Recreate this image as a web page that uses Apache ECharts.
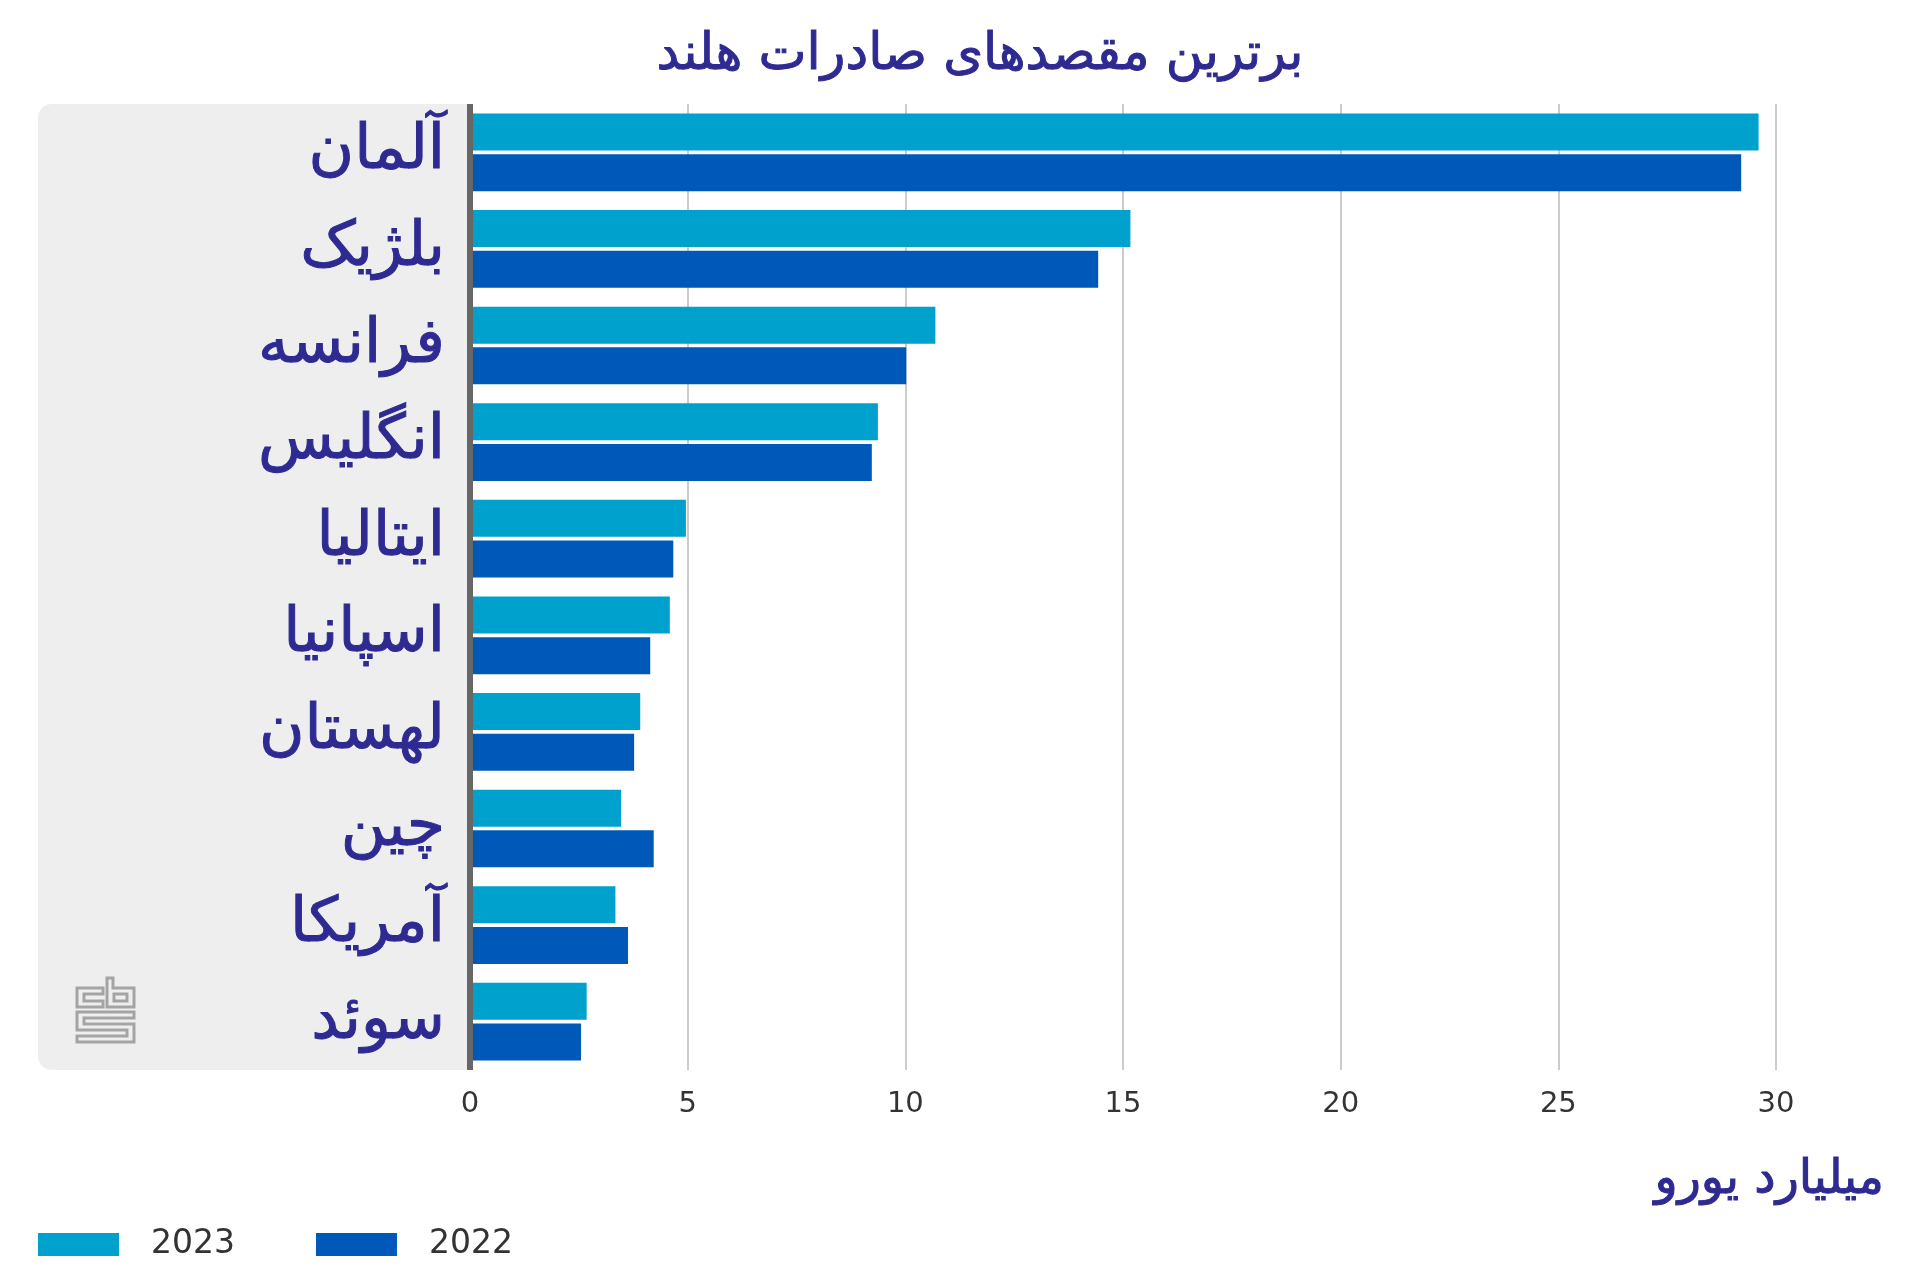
<!DOCTYPE html>
<html>
<head>
<meta charset="utf-8">
<title>برترین مقصدهای صادرات هلند</title>
<script src="https://cdn.jsdelivr.net/npm/echarts@6/dist/echarts.min.js"></script>
<style>
    html, body {margin: 0; padding: 0; background: #fff;}
    #chart {width: 1920px; height: 1280px;}
</style>
</head>
<body>
<div id="chart"></div>
<script>
var categories = ['آلمان', 'بلژیک', 'فرانسه', 'انگلیس', 'ایتالیا', 'اسپانیا', 'لهستان', 'چین', 'آمریکا', 'سوئد'];
var values2023 = [29.6, 15.17, 10.69, 9.37, 4.96, 4.59, 3.91, 3.47, 3.34, 2.68];
var values2022 = [29.2, 14.43, 10.02, 9.23, 4.67, 4.14, 3.77, 4.22, 3.63, 2.55];
var xTicks = [0, 5, 10, 15, 20, 25, 30];
var titleText = 'برترین مقصدهای صادرات هلند';
var unitText = 'میلیارد یورو';

var textBlue = '#2E2A92';
var arabicFont = '"DejaVu Sans"';
var latinFont = '"DejaVu Sans"';

var logoStyle = {fill: 'none', stroke: '#a4a4a4', lineWidth: 3};

// cbs logo, outlined letters
function logoShape(points) {
    return {type: 'polygon', z: 1, shape: {points: points}, style: logoStyle};
}

var chart = echarts.init(document.getElementById('chart'), null, {renderer: 'canvas'});
chart.setOption({
    animation: false,
    backgroundColor: '#fff',
    title: [
        {
            text: titleText,
            left: 975,
            top: 25,
            textAlign: 'center',
            textStyle: {
                fontFamily: arabicFont, fontSize: 51, fontWeight: 'normal', color: textBlue,
                textBorderColor: textBlue, textBorderWidth: 1
            }
        },
        {
            text: unitText,
            right: 30,
            top: 1152,
            textStyle: {
                fontFamily: arabicFont, fontSize: 48, fontWeight: 'normal', color: textBlue,
                textBorderColor: textBlue, textBorderWidth: 1
            }
        }
    ],
    legend: {
        left: 38,
        top: 1228,
        padding: 0,
        itemWidth: 81,
        itemHeight: 23,
        itemGap: 81,
        icon: 'rect',
        data: ['2023', '2022'],
        textStyle: {
            fontFamily: latinFont,
            fontSize: 33,
            color: '#333',
            padding: [0, 0, 0, 27]
        }
    },
    grid: {left: 470, right: 144, top: 104, bottom: 210, containLabel: false},
    xAxis: {
        type: 'value',
        min: 0,
        max: 30,
        interval: 5,
        axisLine: {show: false},
        axisTick: {show: false},
        axisLabel: {
            margin: 20,
            fontFamily: latinFont,
            fontSize: 29,
            color: '#333',
            formatter: function (v) {
                return xTicks.indexOf(v) > -1 ? String(v) : '';
            }
        },
        splitLine: {show: true, lineStyle: {color: '#cccccc', width: 2}}
    },
    yAxis: {
        type: 'category',
        inverse: true,
        data: categories,
        z: 5,
        axisLine: {show: true, onZero: false, lineStyle: {color: '#666666', width: 6, cap: 'butt'}},
        axisTick: {show: false},
        axisLabel: {
            margin: 25,
            fontFamily: arabicFont,
            fontSize: 62,
            color: textBlue,
            textBorderColor: textBlue,
            textBorderWidth: 1
        }
    },
    series: [
        {
            name: '2023',
            type: 'bar',
            data: values2023,
            barWidth: 37,
            barGap: '10%',
            itemStyle: {color: '#00A1CD'}
        },
        {
            name: '2022',
            type: 'bar',
            data: values2022,
            barWidth: 37,
            itemStyle: {color: '#0058B8'}
        }
    ],
    graphic: [
        {
            type: 'rect',
            z: -1,
            shape: {x: 38, y: 104, width: 432, height: 966, r: [14, 0, 0, 14]},
            style: {fill: '#eeeeee'}
        },
        logoShape([[103, 988], [77, 988], [77, 1007], [103, 1007], [103, 1001], [84, 1001], [84, 994], [103, 994]]),
        logoShape([[107, 978], [113, 978], [113, 988], [134, 988], [134, 1007], [107, 1007]]),
        logoShape([[114, 994], [127, 994], [127, 1001], [114, 1001]]),
        logoShape([[77, 1012], [134, 1012], [134, 1018], [84, 1018], [84, 1024], [134, 1024], [134, 1042], [77, 1042], [77, 1036], [127, 1036], [127, 1030], [77, 1030]])
    ]
});
</script>
</body>
</html>
